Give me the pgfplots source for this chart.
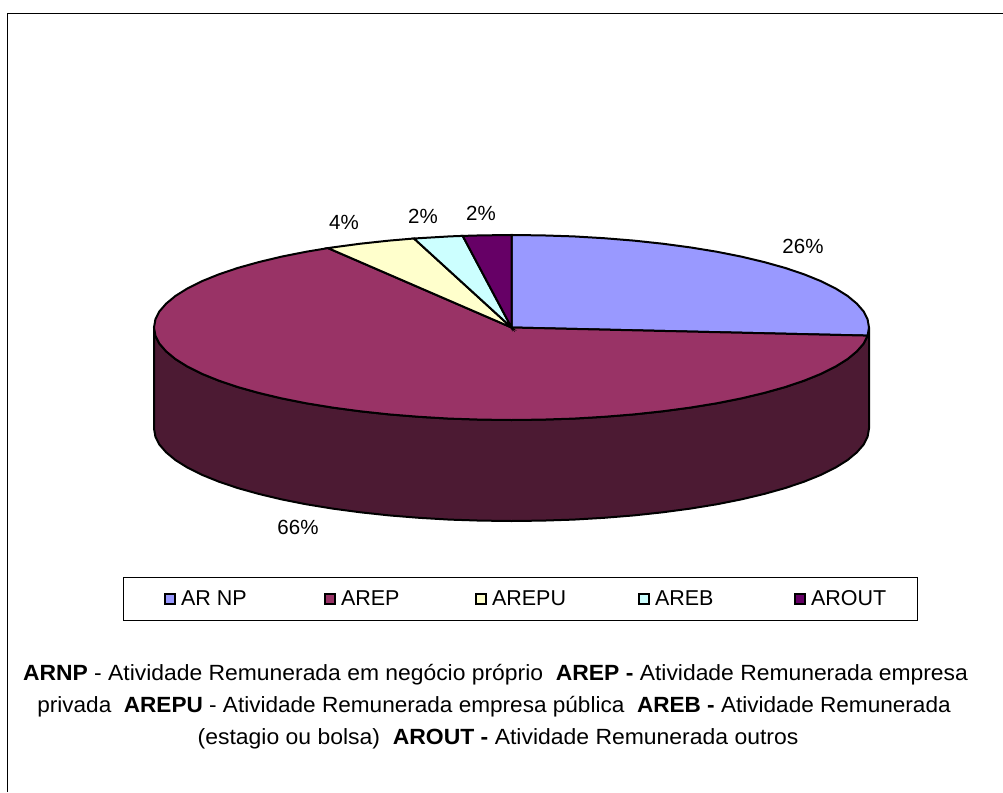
\documentclass[border=0pt]{standalone}
\usepackage{fontspec}
\setmainfont{Liberation Sans}
\usepackage{graphicx}
\usepackage{pgfplots}
\pgfplotsset{compat=1.18}

\definecolor{arnp}{HTML}{9999FF}
\definecolor{arep}{HTML}{993366}
\definecolor{arepu}{HTML}{FFFFCC}
\definecolor{areb}{HTML}{CCFFFF}
\definecolor{arout}{HTML}{660066}
\definecolor{aside}{HTML}{4C1A33}

\newcommand{\lab}{\fontsize{20.5}{24}\selectfont}
\newcommand{\leg}{\fontsize{21.5}{24}\selectfont}
\newcommand{\txt}{\fontsize{22}{26}\selectfont}

\begin{document}
\begin{tikzpicture}
\useasboundingbox (0,0) rectangle (1003pt,792pt);
\begin{axis}[
    at={(0,0)}, anchor=south west,
    scale only axis,
    width=1003pt, height=792pt,
    xmin=0, xmax=1003, ymin=0, ymax=792,
    y dir=reverse,
    hide axis,
    clip=false,
    legend columns=5,
    legend cell align=left,
    legend image code/.code={
        \path[draw=none,fill=none] (0pt,0pt) -- (24pt,0pt);
        \draw[#1,line width=1.3pt] (10pt,-5pt) rectangle (20pt,5pt);
    },
    legend style={
        at={(axis cs:122.5,599)}, anchor=west,
        draw=black, line width=1pt,
        inner xsep=32pt, inner ysep=11.5pt,
        font=\leg,
    },
]
% frame
\addplot[forget plot, black, line width=1.6pt] coordinates {(7.5,792) (7.5,13.5) (1003,13.5)};

% side wall
\addplot[forget plot, draw=black, fill=aside, line width=2pt] coordinates {
(869.0,327.5) (867.6,335.6) (863.6,343.6) (856.8,351.4) (847.5,359.1) (835.5,366.6)
(821.1,373.8) (804.3,380.6) (785.4,387.0) (764.3,392.9) (741.3,398.4) (716.6,403.3)
(690.3,407.6) (662.6,411.3) (633.8,414.4) (604.0,416.8) (573.6,418.6) (542.7,419.6)
(511.5,420.0) (480.3,419.6) (449.4,418.6) (419.0,416.8) (389.2,414.4) (360.4,411.3)
(332.7,407.6) (306.4,403.3) (281.7,398.4) (258.7,392.9) (237.6,387.0) (218.7,380.6)
(201.9,373.8) (187.5,366.6) (175.5,359.1) (166.2,351.4) (159.4,343.6) (155.4,335.6)
(154.0,327.5) (154.0,428.5) (155.4,436.6) (159.4,444.6) (166.2,452.4) (175.5,460.1)
(187.5,467.6) (201.9,474.8) (218.7,481.6) (237.6,488.0) (258.7,493.9) (281.7,499.4)
(306.4,504.3) (332.7,508.6) (360.4,512.3) (389.2,515.4) (419.0,517.8) (449.4,519.6)
(480.3,520.6) (511.5,521.0) (542.7,520.6) (573.6,519.6) (604.0,517.8) (633.8,515.4)
(662.6,512.3) (690.3,508.6) (716.6,504.3) (741.3,499.4) (764.3,493.9) (785.4,488.0)
(804.3,481.6) (821.1,474.8) (835.5,467.6) (847.5,460.1) (856.8,452.4) (863.6,444.6)
(867.6,436.6) (869.0,428.5)
} -- cycle;

% top face slices
\addplot[draw=black, fill=arnp, line width=2pt] coordinates {
(511.5,327.5) (511.5,235.0) (542.7,235.4) (573.6,236.4) (604.0,238.2) (633.8,240.6)
(662.6,243.7) (690.3,247.4) (716.6,251.7) (741.3,256.6) (764.3,262.1) (785.4,268.0)
(804.3,274.4) (821.1,281.2) (835.5,288.4) (847.5,295.9) (856.8,303.6) (863.6,311.4)
(867.6,319.4) (869.0,327.5) (867.6,335.6)
} -- cycle;
\addlegendentry{\makebox[132pt][l]{AR NP}}

\addplot[draw=black, fill=arep, line width=2pt] coordinates {
(511.5,327.5) (867.6,335.6) (863.6,343.6) (856.8,351.4) (847.5,359.1) (835.5,366.6)
(821.1,373.8) (804.3,380.6) (785.4,387.0) (764.3,392.9) (741.3,398.4) (716.6,403.3)
(690.3,407.6) (662.6,411.3) (633.8,414.4) (604.0,416.8) (573.6,418.6) (542.7,419.6)
(511.5,420.0) (480.3,419.6) (449.4,418.6) (419.0,416.8) (389.2,414.4) (360.4,411.3)
(332.7,407.6) (306.4,403.3) (281.7,398.4) (258.7,392.9) (237.6,387.0) (218.7,380.6)
(201.9,373.8) (187.5,366.6) (175.5,359.1) (166.2,351.4) (159.4,343.6) (155.4,335.6)
(154.0,327.5) (155.4,319.4) (159.4,311.4) (166.2,303.6) (175.5,295.9) (187.5,288.4)
(201.9,281.2) (218.7,274.4) (237.6,268.0) (258.7,262.1) (281.7,256.6) (306.4,251.7)
(328.0,248.1)
} -- cycle;
\addlegendentry{\makebox[123pt][l]{AREP}}

\addplot[draw=black, fill=arepu, line width=2pt] coordinates {
(511.5,327.5) (328.0,248.1) (332.7,247.4) (360.4,243.7) (389.2,240.6) (414.0,238.5)
} -- cycle;
\addlegendentry{\makebox[135pt][l]{AREPU}}

\addplot[draw=black, fill=areb, line width=2pt] coordinates {
(511.5,327.5) (414.0,238.5) (419.0,238.2) (449.4,236.4) (462.7,235.9)
} -- cycle;
\addlegendentry{\makebox[128pt][l]{AREB}}

\addplot[draw=black, fill=arout, line width=2pt] coordinates {
(511.5,327.5) (462.7,235.9) (480.3,235.4) (511.5,235.0)
} -- cycle;
\addlegendentry{\makebox[72pt][l]{AROUT}}

% percentages
\node[font=\lab] at (axis cs:803,246) {26\%};
\node[font=\lab] at (axis cs:344,222) {4\%};
\node[font=\lab] at (axis cs:423,216) {2\%};
\node[font=\lab] at (axis cs:481,213) {2\%};
\node[font=\lab] at (axis cs:298,527) {66\%};

% note under the chart
\node[font=\txt] at (axis cs:495.5,674.5) {\scalebox{1.04}[1]{\textbf{ARNP} - Atividade Remunerada em negócio próprio\ \ \textbf{AREP -} Atividade Remunerada empresa}};
\node[font=\txt] at (axis cs:494,706.5) {\scalebox{1.026}[1]{privada\ \ \textbf{AREPU} - Atividade Remunerada empresa pública\ \ \textbf{AREB -} Atividade Remunerada}};
\node[font=\txt] at (axis cs:498,738.5) {\scalebox{1.043}[1]{(estagio ou bolsa)\ \ \textbf{AROUT -} Atividade Remunerada outros}};
\end{axis}
\end{tikzpicture}
\end{document}
